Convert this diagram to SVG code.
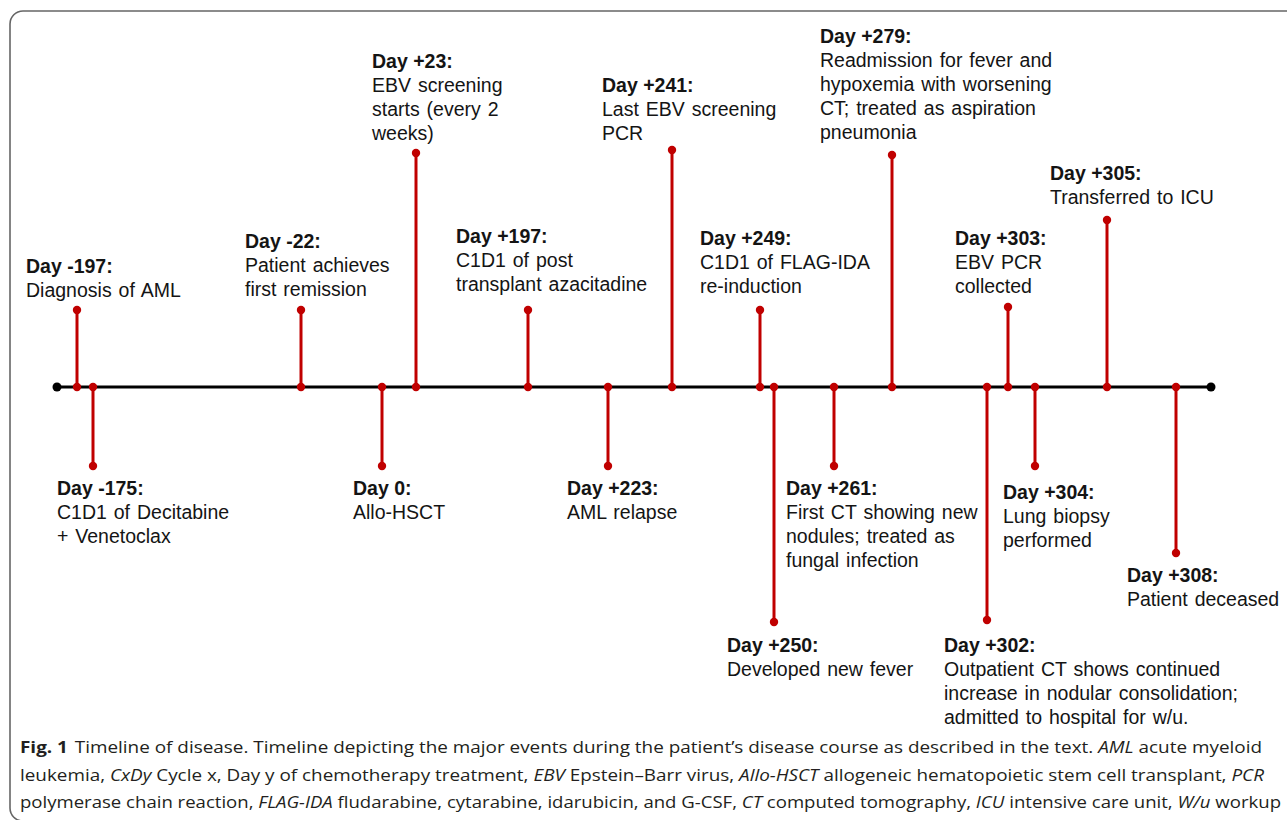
<svg xmlns="http://www.w3.org/2000/svg" width="1287" height="820" viewBox="0 0 1287 820">
<defs>
<style>
.lbl{font-family:"Liberation Sans",Arial,sans-serif;font-size:19.5px;word-spacing:1.5px;fill:#141414;}
.b{font-weight:bold;word-spacing:0;}
.stem{stroke:#c00000;stroke-width:3;fill:none;}
.dot{fill:#c00000;}
.cap{font-family:"Open Sans","Noto Sans",sans-serif;font-size:16.5px;fill:#231f20;}
.it{font-style:italic;}
</style>
</defs>
<rect x="10" y="11" width="1300" height="810" rx="13" ry="13" fill="#fff" stroke="#666" stroke-width="1.6"/>
<g id="connectors">
<line x1="57" y1="387" x2="1211" y2="387" stroke="#000" stroke-width="3"/>
<circle cx="57" cy="387" r="4.5" fill="#000"/>
<circle cx="1211" cy="387" r="4.5" fill="#000"/>
</g>
<g id="day-m197"><line class="stem" x1="77" y1="310" x2="77" y2="387"/><circle class="dot" cx="77" cy="310" r="4.2"/><circle class="dot" cx="77" cy="387" r="4.2"/>
<text class="lbl" x="26" y="273"><tspan class="b">Day -197:</tspan><tspan x="26" y="297">Diagnosis of AML</tspan></text></g>
<g id="day-m175"><line class="stem" x1="93" y1="387" x2="93" y2="466"/><circle class="dot" cx="93" cy="387" r="4.2"/><circle class="dot" cx="93" cy="466" r="4.2"/>
<text class="lbl" x="57" y="495"><tspan class="b">Day -175:</tspan><tspan x="57" y="519">C1D1 of Decitabine</tspan><tspan x="57" y="543">+ Venetoclax</tspan></text></g>
<g id="day-m22"><line class="stem" x1="301" y1="310" x2="301" y2="387"/><circle class="dot" cx="301" cy="310" r="4.2"/><circle class="dot" cx="301" cy="387" r="4.2"/>
<text class="lbl" x="245" y="248"><tspan class="b">Day -22:</tspan><tspan x="245" y="272">Patient achieves</tspan><tspan x="245" y="296">first remission</tspan></text></g>
<g id="day-0"><line class="stem" x1="382" y1="387" x2="382" y2="466"/><circle class="dot" cx="382" cy="387" r="4.2"/><circle class="dot" cx="382" cy="466" r="4.2"/>
<text class="lbl" x="353" y="495"><tspan class="b">Day 0:</tspan><tspan x="353" y="519">Allo-HSCT</tspan></text></g>
<g id="day-p23"><line class="stem" x1="416" y1="153" x2="416" y2="387"/><circle class="dot" cx="416" cy="153" r="4.2"/><circle class="dot" cx="416" cy="387" r="4.2"/>
<text class="lbl" x="372" y="68"><tspan class="b">Day +23:</tspan><tspan x="372" y="92">EBV screening</tspan><tspan x="372" y="116">starts (every 2</tspan><tspan x="372" y="140">weeks)</tspan></text></g>
<g id="day-p197"><line class="stem" x1="528" y1="310" x2="528" y2="387"/><circle class="dot" cx="528" cy="310" r="4.2"/><circle class="dot" cx="528" cy="387" r="4.2"/>
<text class="lbl" x="456" y="243"><tspan class="b">Day +197:</tspan><tspan x="456" y="267">C1D1 of post</tspan><tspan x="456" y="291">transplant azacitadine</tspan></text></g>
<g id="day-p223"><line class="stem" x1="608" y1="387" x2="608" y2="466"/><circle class="dot" cx="608" cy="387" r="4.2"/><circle class="dot" cx="608" cy="466" r="4.2"/>
<text class="lbl" x="567" y="495"><tspan class="b">Day +223:</tspan><tspan x="567" y="519">AML relapse</tspan></text></g>
<g id="day-p241"><line class="stem" x1="672" y1="150" x2="672" y2="387"/><circle class="dot" cx="672" cy="150" r="4.2"/><circle class="dot" cx="672" cy="387" r="4.2"/>
<text class="lbl" x="602" y="92"><tspan class="b">Day +241:</tspan><tspan x="602" y="116">Last EBV screening</tspan><tspan x="602" y="140">PCR</tspan></text></g>
<g id="day-p249"><line class="stem" x1="760" y1="310" x2="760" y2="387"/><circle class="dot" cx="760" cy="310" r="4.2"/><circle class="dot" cx="760" cy="387" r="4.2"/>
<text class="lbl" x="700" y="245"><tspan class="b">Day +249:</tspan><tspan x="700" y="269">C1D1 of FLAG-IDA</tspan><tspan x="700" y="293">re-induction</tspan></text></g>
<g id="day-p250"><line class="stem" x1="774" y1="387" x2="774" y2="622"/><circle class="dot" cx="774" cy="387" r="4.2"/><circle class="dot" cx="774" cy="622" r="4.2"/>
<text class="lbl" x="727" y="652"><tspan class="b">Day +250:</tspan><tspan x="727" y="676">Developed new fever</tspan></text></g>
<g id="day-p261"><line class="stem" x1="834" y1="387" x2="834" y2="466"/><circle class="dot" cx="834" cy="387" r="4.2"/><circle class="dot" cx="834" cy="466" r="4.2"/>
<text class="lbl" x="786" y="495"><tspan class="b">Day +261:</tspan><tspan x="786" y="519">First CT showing new</tspan><tspan x="786" y="543">nodules; treated as</tspan><tspan x="786" y="567">fungal infection</tspan></text></g>
<g id="day-p279"><line class="stem" x1="892" y1="155" x2="892" y2="387"/><circle class="dot" cx="892" cy="155" r="4.2"/><circle class="dot" cx="892" cy="387" r="4.2"/>
<text class="lbl" x="820" y="43"><tspan class="b">Day +279:</tspan><tspan x="820" y="67">Readmission for fever and</tspan><tspan x="820" y="91">hypoxemia with worsening</tspan><tspan x="820" y="115">CT; treated as aspiration</tspan><tspan x="820" y="139">pneumonia</tspan></text></g>
<g id="day-p302"><line class="stem" x1="987" y1="387" x2="987" y2="620"/><circle class="dot" cx="987" cy="387" r="4.2"/><circle class="dot" cx="987" cy="620" r="4.2"/>
<text class="lbl" x="944" y="652"><tspan class="b">Day +302:</tspan><tspan x="944" y="676">Outpatient CT shows continued</tspan><tspan x="944" y="700">increase in nodular consolidation;</tspan><tspan x="944" y="724">admitted to hospital for w/u.</tspan></text></g>
<g id="day-p303"><line class="stem" x1="1008" y1="307" x2="1008" y2="387"/><circle class="dot" cx="1008" cy="307" r="4.2"/><circle class="dot" cx="1008" cy="387" r="4.2"/>
<text class="lbl" x="955" y="245"><tspan class="b">Day +303:</tspan><tspan x="955" y="269">EBV PCR</tspan><tspan x="955" y="293">collected</tspan></text></g>
<g id="day-p304"><line class="stem" x1="1035" y1="387" x2="1035" y2="466"/><circle class="dot" cx="1035" cy="387" r="4.2"/><circle class="dot" cx="1035" cy="466" r="4.2"/>
<text class="lbl" x="1003" y="499"><tspan class="b">Day +304:</tspan><tspan x="1003" y="523">Lung biopsy</tspan><tspan x="1003" y="547">performed</tspan></text></g>
<g id="day-p305"><line class="stem" x1="1107" y1="220" x2="1107" y2="387"/><circle class="dot" cx="1107" cy="220" r="4.2"/><circle class="dot" cx="1107" cy="387" r="4.2"/>
<text class="lbl" x="1050" y="180"><tspan class="b">Day +305:</tspan><tspan x="1050" y="204">Transferred to ICU</tspan></text></g>
<g id="day-p308"><line class="stem" x1="1176" y1="387" x2="1176" y2="553"/><circle class="dot" cx="1176" cy="387" r="4.2"/><circle class="dot" cx="1176" cy="553" r="4.2"/>
<text class="lbl" x="1127" y="582"><tspan class="b">Day +308:</tspan><tspan x="1127" y="606">Patient deceased</tspan></text></g>
<g id="caption">
<text class="cap" x="20" y="753" textLength="1242" lengthAdjust="spacingAndGlyphs"><tspan font-weight="bold">Fig. 1</tspan><tspan dx="6">Timeline of disease. Timeline depicting the major events during the patient’s disease course as described in the text. </tspan><tspan class="it">AML</tspan> acute myeloid</text>
<text class="cap" x="20" y="781" textLength="1244" lengthAdjust="spacingAndGlyphs">leukemia, <tspan class="it">CxDy</tspan> Cycle x, Day y of chemotherapy treatment, <tspan class="it">EBV</tspan> Epstein–Barr virus, <tspan class="it">Allo-HSCT</tspan> allogeneic hematopoietic stem cell transplant, <tspan class="it">PCR</tspan></text>
<text class="cap" x="20" y="808" textLength="1261" lengthAdjust="spacingAndGlyphs">polymerase chain reaction, <tspan class="it">FLAG-IDA</tspan> fludarabine, cytarabine, idarubicin, and G-CSF, <tspan class="it">CT</tspan> computed tomography, <tspan class="it">ICU</tspan> intensive care unit, <tspan class="it">W/u</tspan> workup</text>
</g>
</svg>
